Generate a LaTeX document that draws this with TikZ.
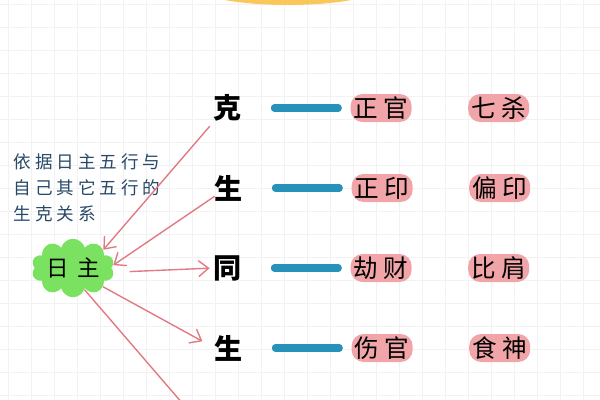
\documentclass[tikz,border=0pt]{standalone}
\usepackage{fontspec}
\usepackage{xcolor}
\usepackage{tikz}
\usetikzlibrary{positioning,calc,arrows.meta,shapes.symbols}
\newfontfamily\cjk{Noto Sans CJK SC}
\newfontfamily\cjkwide[LetterSpace=22]{Noto Sans CJK SC}
\newfontfamily\cjkgap[LetterSpace=40]{Noto Sans CJK SC}
\definecolor{hlpink}{RGB}{242,165,168}
\definecolor{blobgreen}{RGB}{122,226,96}
\definecolor{barblue}{RGB}{38,146,186}
\definecolor{linkpink}{RGB}{226,122,132}
\definecolor{noteblue}{RGB}{40,72,104}
\definecolor{titleyellow}{RGB}{250,200,90}

\begin{document}
\begin{tikzpicture}[
        x=0.25mm,y=-0.25mm,
        >=Stealth,
        node distance=1.0cm,
        relation/.style={inner sep=0pt,font=\cjk\bfseries\fontsize{20}{22}\selectfont},
        shishen/.style={rectangle,rounded corners=3mm,fill=hlpink,inner xsep=0.8mm,inner ysep=0.4mm,minimum height=7mm,font=\cjkwide\fontsize{17.5}{18}\selectfont},
        daymaster/.style={cloud,cloud puffs=10,aspect=1.8,fill=blobgreen,minimum width=18.5mm,minimum height=11mm,inner sep=0pt,font=\cjkgap\fontsize{16}{18}\selectfont},
        bar/.style={draw=barblue,line width=5pt,line cap=round},
        link/.style={draw=linkpink,line width=1pt,-{Straight Barb[length=2.5mm,width=4mm]}},
        gridline/.style={draw=black!5,line width=0.3pt}
    ]
        \useasboundingbox (0,0) rectangle (600,400);
        \clip (0,0) rectangle (600,400);

        % graph paper
        \foreach \gx in {8,31,...,600} \draw[gridline] (\gx,0) -- (\gx,400);
        \foreach \gy in {4,27,...,400} \draw[gridline] (0,\gy) -- (600,\gy);

        % title highlight, cut off at the top
        \fill[titleyellow] (288,-16) ellipse [x radius=98,y radius=21];

        \node[relation] (ke) at (228,108) {克};
        \node[relation] (shenga) at (229,188) {生};
        \node[relation] (tong) at (228,268) {同};
        \node[relation] (shengb) at (229,348) {生};

        \node[shishen,right=27mm of ke] (zhengguan) {正官};
        \node[shishen,right=14mm of zhengguan] (qisha) {七杀};
        \node[shishen,right=27mm of shenga] (zhengyin) {正印};
        \node[shishen,right=14mm of zhengyin] (pianyin) {偏印};
        \node[shishen,right=27mm of tong] (jiecai) {劫财};
        \node[shishen,right=14mm of jiecai] (bijian) {比肩};
        \node[shishen,right=27mm of shengb] (shangguan) {伤官};
        \node[shishen,right=14mm of shangguan] (shishen) {食神};

        \draw[bar,shorten <=8mm,shorten >=3mm] (ke.east) -- (zhengguan.west);
        \draw[bar,shorten <=8mm,shorten >=3mm] (shenga.east) -- (zhengyin.west);
        \draw[bar,shorten <=8mm,shorten >=3mm] (tong.east) -- (jiecai.west);
        \draw[bar,shorten <=8mm,shorten >=3mm] (shengb.east) -- (shangguan.west);

        \node[daymaster] (rizhu) at (73,268) {日主};
        \node[anchor=west,align=left,text=noteblue,font=\cjkwide\fontsize{12.5}{18.5}\selectfont] (note) at (9,188) {依据日主五行与\\自己其它五行的\\生克关系};

        \coordinate (down) at (183,404);
        \draw[link,shorten <=1.5mm] (ke.south west) -- (rizhu.31);
        \draw[link] (shenga.210) -- (rizhu.4);
        \draw[link,shorten <=4mm,shorten >=1mm] (rizhu.-6) -- (tong.west);
        \draw[link,shorten >=3.5mm] (rizhu.-32) -- (shengb.west);
        \draw[draw=linkpink,line width=1pt] (rizhu.-62) -- (down);
    \end{tikzpicture}
\end{document}
